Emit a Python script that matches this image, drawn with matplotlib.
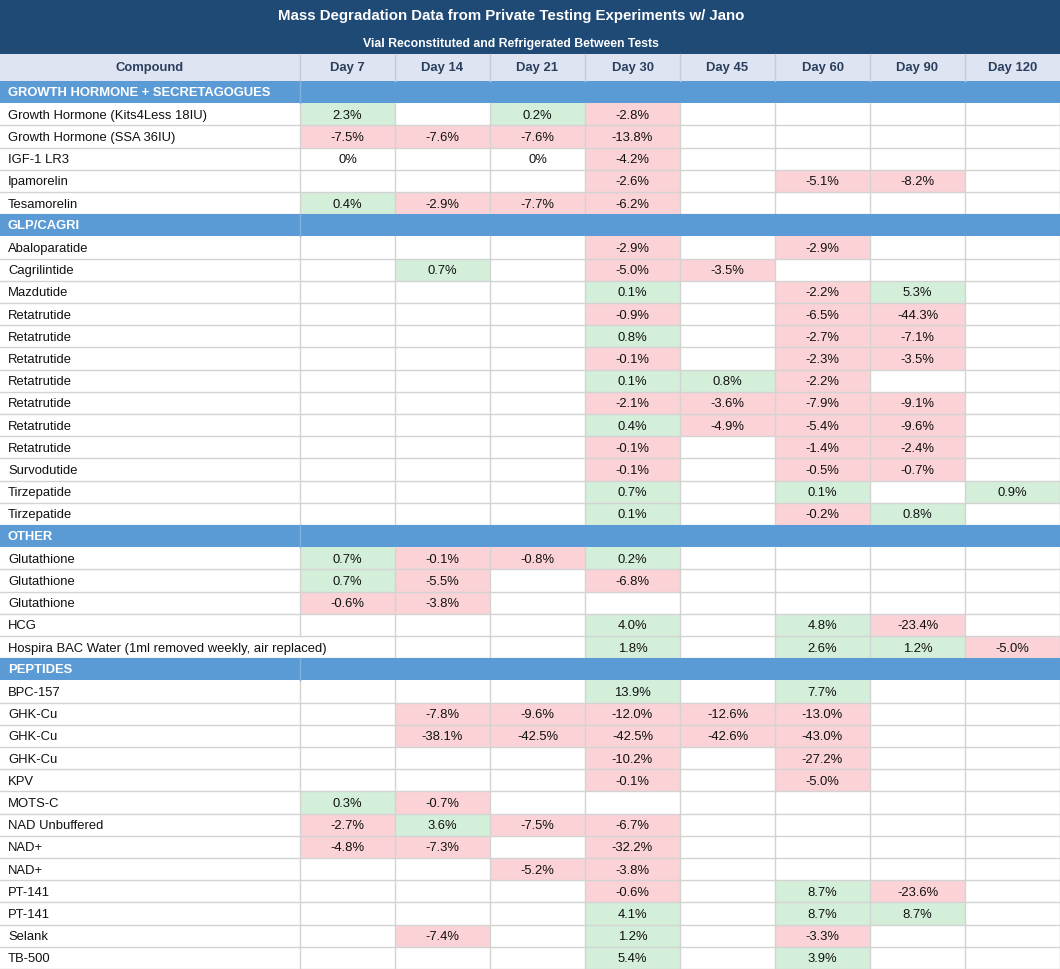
import matplotlib.pyplot as plt
from matplotlib.patches import Rectangle

plt.rcParams['font.family'] = ['Liberation Sans', 'DejaVu Sans']

title = "Mass Degradation Data from Private Testing Experiments w/ Jano"
subtitle = "Vial Reconstituted and Refrigerated Between Tests"
days = ["Day 7", "Day 14", "Day 21", "Day 30", "Day 45", "Day 60", "Day 90", "Day 120"]

# each row: compound name, then one value per day (None = not tested)
growth_hormone = [
    ("Growth Hormone (Kits4Less 18IU)", [2.3, None, 0.2, -2.8, None, None, None, None]),
    ("Growth Hormone (SSA 36IU)", [-7.5, -7.6, -7.6, -13.8, None, None, None, None]),
    ("IGF-1 LR3", [0, None, 0, -4.2, None, None, None, None]),
    ("Ipamorelin", [None, None, None, -2.6, None, -5.1, -8.2, None]),
    ("Tesamorelin", [0.4, -2.9, -7.7, -6.2, None, None, None, None]),
]
glp_cagri = [
    ("Abaloparatide", [None, None, None, -2.9, None, -2.9, None, None]),
    ("Cagrilintide", [None, 0.7, None, -5.0, -3.5, None, None, None]),
    ("Mazdutide", [None, None, None, 0.1, None, -2.2, 5.3, None]),
    ("Retatrutide", [None, None, None, -0.9, None, -6.5, -44.3, None]),
    ("Retatrutide", [None, None, None, 0.8, None, -2.7, -7.1, None]),
    ("Retatrutide", [None, None, None, -0.1, None, -2.3, -3.5, None]),
    ("Retatrutide", [None, None, None, 0.1, 0.8, -2.2, None, None]),
    ("Retatrutide", [None, None, None, -2.1, -3.6, -7.9, -9.1, None]),
    ("Retatrutide", [None, None, None, 0.4, -4.9, -5.4, -9.6, None]),
    ("Retatrutide", [None, None, None, -0.1, None, -1.4, -2.4, None]),
    ("Survodutide", [None, None, None, -0.1, None, -0.5, -0.7, None]),
    ("Tirzepatide", [None, None, None, 0.7, None, 0.1, None, 0.9]),
    ("Tirzepatide", [None, None, None, 0.1, None, -0.2, 0.8, None]),
]
other = [
    ("Glutathione", [0.7, -0.1, -0.8, 0.2, None, None, None, None]),
    ("Glutathione", [0.7, -5.5, None, -6.8, None, None, None, None]),
    ("Glutathione", [-0.6, -3.8, None, None, None, None, None, None]),
    ("HCG", [None, None, None, 4.0, None, 4.8, -23.4, None]),
    ("Hospira BAC Water (1ml removed weekly, air replaced)", [None, None, None, 1.8, None, 2.6, 1.2, -5.0]),
]
peptides = [
    ("BPC-157", [None, None, None, 13.9, None, 7.7, None, None]),
    ("GHK-Cu", [None, -7.8, -9.6, -12.0, -12.6, -13.0, None, None]),
    ("GHK-Cu", [None, -38.1, -42.5, -42.5, -42.6, -43.0, None, None]),
    ("GHK-Cu", [None, None, None, -10.2, None, -27.2, None, None]),
    ("KPV", [None, None, None, -0.1, None, -5.0, None, None]),
    ("MOTS-C", [0.3, -0.7, None, None, None, None, None, None]),
    ("NAD Unbuffered", [-2.7, 3.6, -7.5, -6.7, None, None, None, None]),
    ("NAD+", [-4.8, -7.3, None, -32.2, None, None, None, None]),
    ("NAD+", [None, None, -5.2, -3.8, None, None, None, None]),
    ("PT-141", [None, None, None, -0.6, None, 8.7, -23.6, None]),
    ("PT-141", [None, None, None, 4.1, None, 8.7, 8.7, None]),
    ("Selank", [None, -7.4, None, 1.2, None, -3.3, None, None]),
    ("TB-500", [None, None, None, 5.4, None, 3.9, None, None]),
]
sections = [
    ("GROWTH HORMONE + SECRETAGOGUES", growth_hormone),
    ("GLP/CAGRI", glp_cagri),
    ("OTHER", other),
    ("PEPTIDES", peptides),
]

# colours
dark_blue = "#1f4a75"
head_bg = "#dfe4f2"
head_txt = "#2a3f5e"
sect_bg = "#5b9bd5"
green = "#d4efd9"
red = "#fbd2d6"
grid = "#d3d3d3"

W, H = 1060, 970
name_w = 300
col_w = 95
top_band = 55
head_h = 27
row_h = 22.2

fig = plt.figure(figsize=(W / 100, H / 100), dpi=100)
ax = fig.add_axes([0, 0, 1, 1])
ax.set_xlim(0, W)
ax.set_ylim(H, 0)
ax.axis("off")

# title band
ax.add_patch(Rectangle((0, 0), W, top_band, color=dark_blue, lw=0))
ax.text(511, 16, title, ha="center", va="center", color="white", fontsize=10.8, fontweight="bold")
ax.text(511, 43.5, subtitle, ha="center", va="center", color="white", fontsize=8.8, fontweight="bold")

# column header row
ax.add_patch(Rectangle((0, top_band), W, head_h, color=head_bg, lw=0))
ax.text(name_w / 2, top_band + head_h / 2, "Compound", ha="center", va="center",
        color=head_txt, fontsize=9.4, fontweight="bold")
for j, d in enumerate(days):
    x0 = name_w + j * col_w
    ax.text(x0 + col_w / 2, top_band + head_h / 2, d, ha="center", va="center",
            color=head_txt, fontsize=9.4, fontweight="bold")
    ax.plot([x0, x0], [top_band, top_band + head_h], color="#c6cad4", lw=1)

y = top_band + head_h
for sect_name, rows in sections:
    ax.add_patch(Rectangle((0, y), W, row_h, color=sect_bg, lw=0))
    ax.plot([name_w, name_w], [y, y + row_h], color="#7fb1df", lw=1)
    ax.text(8, y + row_h / 2, sect_name, ha="left", va="center", color="white",
            fontsize=9.4, fontweight="bold")
    y += row_h
    for name, vals in rows:
        ax.plot([0, W], [y + row_h, y + row_h], color=grid, lw=1, zorder=1)
        for j, v in enumerate(vals):
            x0 = name_w + j * col_w
            if v is not None and v != 0:
                c = green if v > 0 else red
                ax.add_patch(Rectangle((x0, y), col_w, row_h, color=c, lw=0, zorder=0))
            if v is not None:
                label = "0%" if v == 0 else f"{v:.1f}%"
                ax.text(x0 + col_w / 2, y + row_h / 2 + 0.5, label, ha="center", va="center",
                        color="#111111", fontsize=9.4, zorder=3)
        # vertical grid lines; long names overflow into the empty Day 7 cell
        overflow = len(name) > 40 and vals[0] is None
        for j in range(len(days) + 1):
            x0 = name_w + j * col_w
            if j == 0 and overflow:
                continue
            ax.plot([x0, x0], [y, y + row_h], color=grid, lw=1, zorder=1)
        ax.text(8, y + row_h / 2 + 0.5, name, ha="left", va="center", color="#111111",
                fontsize=9.4, zorder=3)
        y += row_h

fig.savefig("out.png", dpi=100)
